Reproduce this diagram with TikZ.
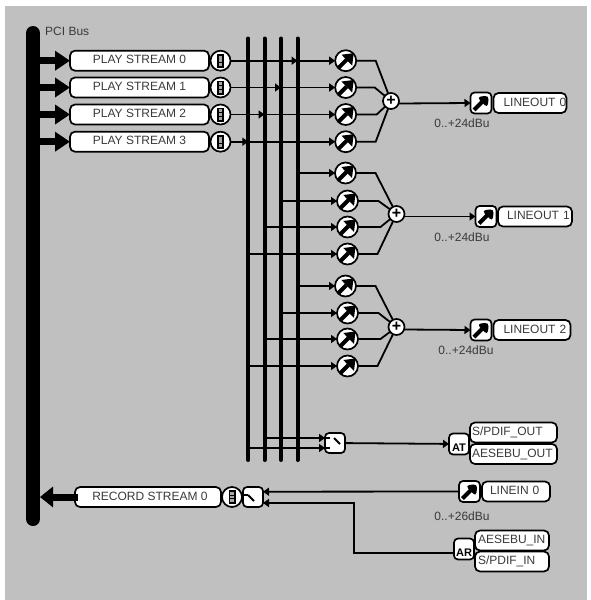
\documentclass[tikz,border=0pt]{standalone}
\usepackage{fontspec}
\setmainfont{Liberation Sans}
\usepackage{xcolor}
\usetikzlibrary{arrows.meta,positioning}
\definecolor{panelgray}{HTML}{C0C0C0}
\definecolor{labelgray}{HTML}{3A3A3A}
\newcommand{\inset}[2]{\hspace*{#1}\rlap{#2}}
\tikzset{
  labelfont/.style={font=\fontsize{12}{14}\selectfont, text=labelgray},
  streambox/.style={draw=black, line width=1.7pt, rounded corners=5pt, fill=white, outer sep=0pt,
    labelfont, minimum width=#1, minimum height=20pt, inner sep=0pt, text height=9pt, text depth=3pt},
  iolabel/.style={streambox=#1, text width=#1, align=left},
  meter/.style={draw=black, line width=1.7pt, circle, fill=white, minimum size=20pt, inner sep=0pt, outer sep=0pt,
    path picture={\begin{scope}[shift={(path picture bounding box.center)}]
      \fill[black] (-3.5,-7) rectangle (3.5,7);
      \fill[gray!70] (-1.6,-5.2) rectangle (1.6,-2.2);
      \fill[gray!70] (-1.6,-1.4) rectangle (1.6,1.4);
      \fill[gray!70] (-1.6,2.2) rectangle (1.6,5.2);
    \end{scope}}},
  arrowglyph/.style={path picture={\begin{scope}[shift={(path picture bounding box.center)}]
      \draw[black, line width=4pt] (-7,7) -- (1,-1);
      \fill[black] (8,-7.5) -- (-4.2,-6) -- (6.5,5) -- cycle;
    \end{scope}}},
  knob/.style={draw=black, line width=1.7pt, circle, fill=white, minimum size=21pt, inner sep=0pt, outer sep=0pt, arrowglyph},
  trim/.style={draw=black, line width=1.7pt, rounded corners=4pt, fill=white, minimum size=21pt, inner sep=0pt, outer sep=0pt, arrowglyph},
  mixer/.style={draw=black, line width=1.7pt, circle, fill=white, minimum size=16pt, inner sep=0pt, outer sep=0pt,
    font=\fontsize{16}{16}\bfseries\selectfont},
  conv/.style={draw=black, line width=1.7pt, rounded corners=4pt, fill=white, minimum width=20pt, minimum height=21pt,
    inner sep=0pt, outer sep=0pt, font=\fontsize{11}{14}\bfseries\selectfont, text height=14pt, text depth=0pt},
  switchbox/.style={draw=black, line width=1.7pt, rounded corners=4pt, fill=white, minimum size=20pt, inner sep=0pt, outer sep=0pt},
  busline/.style={line width=14pt, line cap=round},
  mixbus/.style={line width=4pt, line cap=round},
  wire/.style={line width=1.8pt},
  arr/.style={wire, -{Triangle[length=6pt,width=8pt]}},
  bigarr/.style={line width=7pt, -{Triangle[length=15pt,width=19pt]}}
}
\begin{document}
\begin{tikzpicture}[x=1pt, y=-1pt]
  \useasboundingbox (0,0) rectangle (590,600);
  \fill[panelgray] (5,6) rectangle (587,600);

  \coordinate (bustop) at (33,33);
  \coordinate (busend) at (33,519);
  \coordinate (busedge) at (40,33);
  \coordinate (b1) at (248.3,38.5);
  \coordinate (b1end) at (248.3,460);
  \coordinate (b2) at (264.5,38.5);
  \coordinate (b2end) at (264.5,460);
  \coordinate (b3) at (281,38.5);
  \coordinate (b3end) at (281,460);
  \coordinate (b4) at (297.5,38.5);
  \coordinate (b4end) at (297.5,460);
  \draw[busline] (bustop) -- (busend);
  \draw[mixbus] (b1) -- (b1end);
  \draw[mixbus] (b2) -- (b2end);
  \draw[mixbus] (b3) -- (b3end);
  \draw[mixbus] (b4) -- (b4end);

  \node[labelfont, anchor=west, inner sep=0pt] (pci) at (45,31.5) {PCI Bus};

  \node[streambox=139pt] (play0) at (139.5,60.7) {PLAY STREAM 0};
  \node[streambox=139pt] (play1) at (139.5,87.5) {PLAY STREAM 1};
  \node[streambox=139pt] (play2) at (139.5,114.5) {PLAY STREAM 2};
  \node[streambox=139pt] (play3) at (139.5,141.7) {PLAY STREAM 3};
  \node[meter, right=1.5pt of play0] (meter0) {};
  \node[meter, right=1.5pt of play1] (meter1) {};
  \node[meter, right=1.5pt of play2] (meter2) {};
  \node[meter, right=1.5pt of play3] (meter3) {};
  \draw[bigarr] (busedge |- play0) -- (play0);
  \draw[bigarr] (busedge |- play1) -- (play1);
  \draw[bigarr] (busedge |- play2) -- (play2);
  \draw[bigarr] (busedge |- play3) -- (play3);

  \node[knob] (gain0) at (345.7,60.7) {};
  \node[knob] (gain1) at (345.7,87.5) {};
  \node[knob] (gain2) at (345.7,114.5) {};
  \node[knob] (gain3) at (345.7,141.7) {};
  \node[knob] (gain4) at (345.5,173) {};
  \node[knob] (gain5) at (347.5,201) {};
  \node[knob] (gain6) at (347.5,227) {};
  \node[knob] (gain7) at (347.5,254) {};
  \node[knob] (gain8) at (345.5,286) {};
  \node[knob] (gain9) at (347.5,313) {};
  \node[knob] (gain10) at (347.5,339) {};
  \node[knob] (gain11) at (347.5,366) {};
  \node[mixer] (mix0) at (391,101) {+};
  \node[mixer] (mix1) at (396.5,214) {+};
  \node[mixer] (mix2) at (396.5,327) {+};

  \draw[arr] (meter0) -- (b4 |- meter0);
  \draw[arr] (meter1) -- (b3 |- meter1);
  \draw[arr] (meter2) -- (b2 |- meter2);
  \draw[arr] (meter3) -- (b1 |- meter3);
  \draw[arr] (b4 |- gain0) -- (gain0);
  \draw[arr] (b3 |- gain1) -- (gain1);
  \draw[arr] (b2 |- gain2) -- (gain2);
  \draw[arr] (b1 |- gain3) -- (gain3);
  \draw[arr] (b4 |- gain4) -- (gain4);
  \draw[arr] (b3 |- gain5) -- (gain5);
  \draw[arr] (b2 |- gain6) -- (gain6);
  \draw[arr] (b1 |- gain7) -- (gain7);
  \draw[arr] (b4 |- gain8) -- (gain8);
  \draw[arr] (b3 |- gain9) -- (gain9);
  \draw[arr] (b2 |- gain10) -- (gain10);
  \draw[arr] (b1 |- gain11) -- (gain11);

  \draw[wire] (gain0) -- ++(30,0) -- (mix0);
  \draw[wire] (gain1) -- ++(29,0) -- (mix0);
  \draw[wire] (gain2) -- ++(31,0) -- (mix0);
  \draw[wire] (gain3) -- ++(30,0) -- (mix0);
  \draw[wire] (gain4) -- ++(30,0) -- (mix1);
  \draw[wire] (gain5) -- ++(31,0) -- (mix1);
  \draw[wire] (gain6) -- ++(33,0) -- (mix1);
  \draw[wire] (gain7) -- ++(30,0) -- (mix1);
  \draw[wire] (gain8) -- ++(30,0) -- (mix2);
  \draw[wire] (gain9) -- ++(31,0) -- (mix2);
  \draw[wire] (gain10) -- ++(33,0) -- (mix2);
  \draw[wire] (gain11) -- ++(30,0) -- (mix2);

  \node[trim] (trim0) at (481,103) {};
  \node[trim] (trim1) at (486,216.5) {};
  \node[trim] (trim2) at (481,330) {};
  \node[iolabel=73pt, right=2pt of trim0] (line0) {\inset{10pt}{LINEOUT 0}};
  \node[iolabel=74pt, right=1.5pt of trim1] (line1) {\inset{9pt}{LINEOUT 1}};
  \node[iolabel=77pt, right=2pt of trim2] (line2) {\inset{10pt}{LINEOUT 2}};
  \node[labelfont, inner sep=0pt] (range0) at (462,123) {0..+24dBu};
  \node[labelfont, inner sep=0pt] (range1) at (462,237) {0..+24dBu};
  \node[labelfont, inner sep=0pt] (range2) at (466,350) {0..+24dBu};
  \draw[arr] ([yshift=-2.5pt]mix0.east) -- (trim0.west);
  \draw[arr] ([yshift=-2.5pt]mix1.east) -- (trim1.west);
  \draw[arr] ([yshift=-2.5pt]mix2.east) -- (trim2.west);

  \node[switchbox] (swout) at (335,443) {};
  \draw[wire] (swout.west |- 0,438) -- (330,438);
  \draw[wire] (swout.west |- 0,448) -- (330,448);
  \draw[wire] (334,438) -- (340,444);
  \node[conv] (at) at (459,444) {AT};
  \node[iolabel=87pt] (spout) at (513.5,432.5) {\inset{2pt}{S/PDIF\_OUT}};
  \node[iolabel=87pt] (aesout) at (513.5,454) {\inset{2pt}{AESEBU\_OUT}};
  \coordinate (swouta) at (325,438);
  \coordinate (swoutb) at (325,448);
  \draw[arr] (b2 |- swouta) -- (swouta);
  \draw[arr] (b1 |- swoutb) -- (swoutb);
  \draw[arr] (swout) -- (at);

  \node[streambox=146pt] (rec) at (148,497) {\hspace*{4pt}RECORD STREAM 0};
  \node[meter, right=1pt of rec] (meter4) {};
  \node[switchbox] (swrec) at (253,497) {};
  \draw[wire] (swrec.west |- 0,495) -- (248,495);
  \draw[wire] (248,495) -- (254,501);
  \draw[bigarr, -{Triangle[length=13pt,width=20pt]}] ([xshift=3pt]rec.west) -- (busedge |- rec);

  \node[trim] (trimin) at (469.5,491.5) {};
  \node[iolabel=68pt, right=2pt of trimin] (linein) {\inset{8pt}{LINEIN 0}};
  \node[labelfont, inner sep=0pt] (rangein) at (462,516) {0..+26dBu};
  \node[conv] (ar) at (464,549) {AR};
  \node[iolabel=74pt] (aesin) at (512,540.5) {\inset{3pt}{AESEBU\_IN}};
  \node[iolabel=74pt] (spin) at (512,561.5) {\inset{3pt}{S/PDIF\_IN}};
  \coordinate (recina) at (263,491.7);
  \coordinate (recinb) at (263,503);
  \coordinate (recbend) at (354,503);
  \draw[arr] (trimin) -- (recina);
  \draw[arr, line width=2.4pt] ([yshift=-4pt]ar.west) -| (recbend) -- (recinb);
\end{tikzpicture}
\end{document}
